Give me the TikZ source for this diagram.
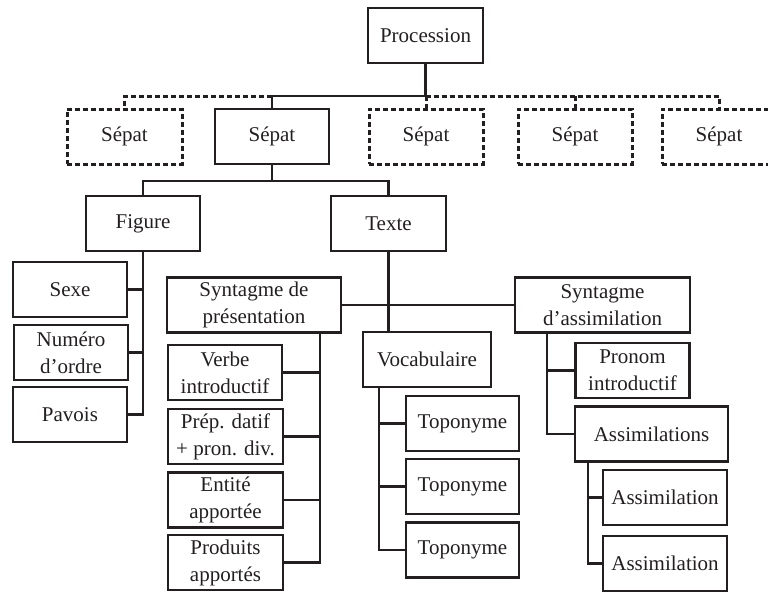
\documentclass[tikz,border=0pt]{standalone}
\usepackage{fontspec}
\setmainfont{Liberation Serif}
\definecolor{ink}{HTML}{231F20}

\begin{document}
\begin{tikzpicture}[x=1pt, y=-1pt,
  box/.style={draw=ink, text=ink, line width=2.2pt, minimum height=55pt,
    inner sep=0pt, align=center, font=\fontsize{21}{27}\selectfont},
  dbox/.style={box, line width=3pt, dash pattern=on 5pt off 3pt},
  link/.style={draw=ink, line width=2.2pt},
  dlink/.style={link, line width=3pt, dash pattern=on 5pt off 3pt}]
  \useasboundingbox (0,0) rectangle (768,592);

  % top levels
  \node[box, minimum width=115pt] (proc) at (425.5,35.5) {Procession};
  \node[dbox, minimum width=115pt] (sep1) at (124.5,136.5) {Sépat};
  \node[box,  minimum width=114pt] (sep2) at (272,136.5) {Sépat};
  \node[dbox, minimum width=114pt] (sep3) at (426,136.5) {Sépat};
  \node[dbox, minimum width=114pt] (sep4) at (575,136.5) {Sépat};
  \node[dbox, minimum width=114pt] (sep5) at (719,136.5) {Sépat};

  \node[box, minimum width=114pt] (figure) at (143,223.5) {Figure};
  \node[box, minimum width=115pt] (texte) at (388.5,223.5) {Texte};

  % sous Figure
  \node[box, minimum width=114pt] (sexe) at (70,289.5) {Sexe};
  \node[box, minimum width=114pt] (numero) at (71,352.5) {Numéro\\d’ordre};
  \node[box, minimum width=114pt] (pavois) at (70,414.5) {Pavois};

  % sous Texte
  \node[box, minimum width=174pt] (synpres) at (254,305) {Syntagme de\\présentation};
  \node[box, minimum width=175pt] (synass) at (602.5,305) {Syntagme\\d’assimilation};
  \node[box, minimum width=128pt] (vocab) at (427,359.5) {Vocabulaire};

  \node[box, minimum width=114pt] (verbe) at (225,372.5) {Verbe\\introductif};
  \node[box, minimum width=115pt] (prep) at (225.5,436.5) {Prép. datif\\+ pron. div.};
  \node[box, minimum width=115pt] (entite) at (225.5,500) {Entité\\apportée};
  \node[box, minimum width=115pt] (produits) at (225.5,562.5) {Produits\\apportés};

  \node[box, minimum width=113pt] (topo1) at (462.5,423.5) {Toponyme};
  \node[box, minimum width=113pt] (topo2) at (462.5,486.5) {Toponyme};
  \node[box, minimum width=113pt] (topo3) at (462.5,550) {Toponyme};

  \node[box, minimum width=114pt] (pronom) at (632.5,370.5) {Pronom\\introductif};
  \node[box, minimum width=153pt] (assims) at (651.5,434) {Assimilations};
  \node[box, minimum width=124pt] (assim1) at (665,497.5) {Assimilation};
  \node[box, minimum width=124pt] (assim2) at (665,563.5) {Assimilation};

  % liens
  \draw[link] (proc.south) -- ++(0,32) coordinate (bus) -| (sep2.north);
  \draw[dlink] (sep2.north |- bus) -| (sep1.north);
  \draw[dlink] (bus) -| (sep5.north);
  \draw[dlink] (sep3.north |- bus) -- (sep3.north);
  \draw[dlink] (sep4.north |- bus) -- (sep4.north);

  \draw[link] (sep2.south) -- ++(0,16) coordinate (bus2) -| (figure.north);
  \draw[link] (bus2) -| (texte.north);

  \draw[link] (figure.south) |- (sexe.east);
  \draw[link] (figure.south) |- (numero.east);
  \draw[link] (figure.south) |- (pavois.east);

  \draw[link] (texte.south) -- (texte.south |- vocab.north);
  \draw[link] (synpres.east) -- (synass.west);

  \coordinate (sp) at ([xshift=-22pt]synpres.south east);
  \draw[link] (sp) |- (verbe.east);
  \draw[link] (sp) |- (prep.east);
  \draw[link] (sp) |- (entite.east);
  \draw[link] (sp) |- (produits.east);

  \coordinate (vc) at ([xshift=17pt]vocab.south west);
  \draw[link] (vc) |- (topo1.west);
  \draw[link] (vc) |- (topo2.west);
  \draw[link] (vc) |- (topo3.west);

  \coordinate (sa) at ([xshift=33pt]synass.south west);
  \draw[link] (sa) |- (pronom.west);
  \draw[link] (sa) |- (assims.west);

  \coordinate (as) at ([xshift=14pt]assims.south west);
  \draw[link] (as) |- (assim1.west);
  \draw[link] (as) |- (assim2.west);
\end{tikzpicture}
\end{document}
